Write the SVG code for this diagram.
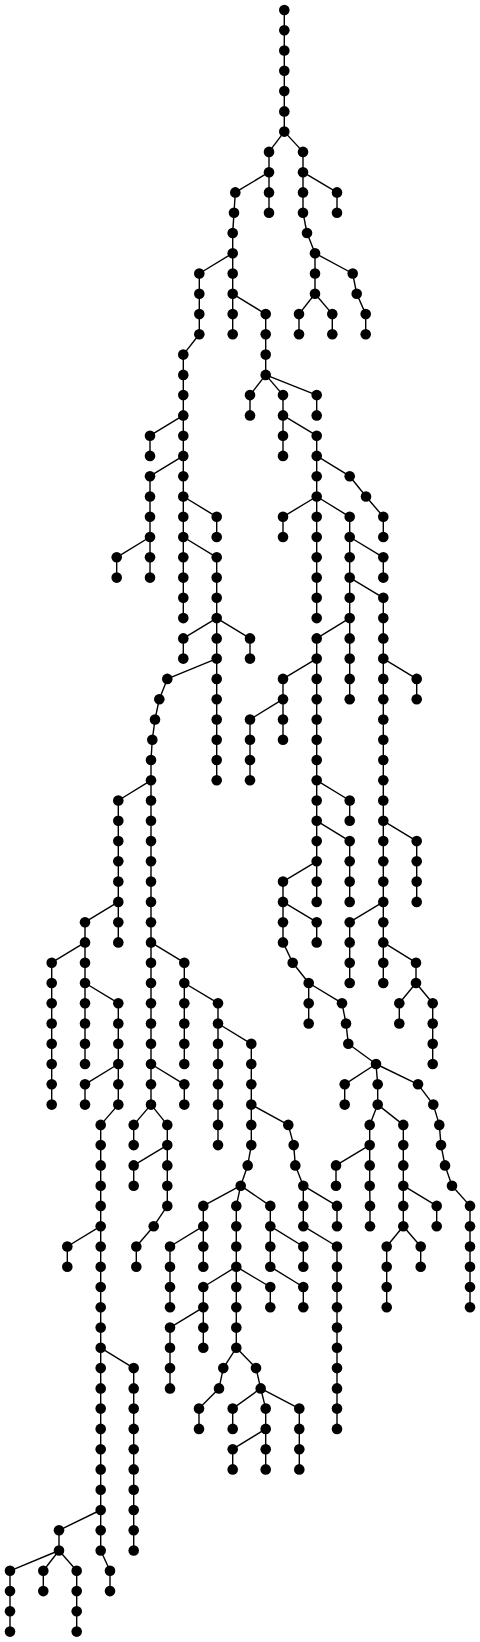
<svg xmlns="http://www.w3.org/2000/svg" width="480" height="1642" viewBox="0 0 480 1642">
<style>
line{stroke:#000;stroke-width:1.4}
circle{fill:#000}
</style>
<rect width="480" height="1642" fill="#fff"/>
<g id="edges">
<line x1="284.3" y1="10" x2="284.3" y2="30.3"/><line x1="284.3" y1="30.3" x2="284.3" y2="50.5"/><line x1="284.3" y1="50.5" x2="284.3" y2="70.8"/><line x1="284.3" y1="70.8" x2="284.3" y2="91.1"/><line x1="284.3" y1="91.1" x2="284.3" y2="111.4"/><line x1="284.3" y1="111.4" x2="284.3" y2="131.6"/>
<line x1="284.3" y1="131.6" x2="269" y2="151.9"/><line x1="284.3" y1="131.6" x2="303" y2="151.9"/>
<line x1="269" y1="151.9" x2="269" y2="172.2"/><line x1="303" y1="151.9" x2="303" y2="172.2"/>
<line x1="269" y1="172.2" x2="235.3" y2="192.4"/><line x1="269" y1="172.2" x2="269" y2="192.4"/><line x1="303" y1="172.2" x2="303" y2="192.4"/><line x1="303" y1="172.2" x2="337" y2="192.4"/>
<line x1="235.3" y1="192.4" x2="234" y2="212.7"/><line x1="269" y1="192.4" x2="269" y2="212.7"/><line x1="303" y1="192.4" x2="303" y2="212.7"/><line x1="337" y1="192.4" x2="337" y2="212.7"/>
<line x1="234" y1="212.7" x2="232.7" y2="233"/><line x1="303" y1="212.7" x2="307" y2="233"/>
<line x1="232.7" y1="233" x2="232.7" y2="253.2"/><line x1="307" y1="233" x2="315" y2="253.2"/>
<line x1="232.7" y1="253.2" x2="199.3" y2="273.5"/><line x1="232.7" y1="253.2" x2="232.7" y2="273.5"/><line x1="315" y1="253.2" x2="315" y2="273.5"/><line x1="315" y1="253.2" x2="352.7" y2="273.5"/>
<line x1="199.3" y1="273.5" x2="199.3" y2="293.8"/><line x1="232.7" y1="273.5" x2="232.7" y2="293.8"/><line x1="315" y1="273.5" x2="315" y2="293.8"/><line x1="352.7" y1="273.5" x2="356.7" y2="293.8"/>
<line x1="199.3" y1="293.8" x2="199.3" y2="314.1"/><line x1="232.7" y1="293.8" x2="232.7" y2="314.1"/><line x1="232.7" y1="293.8" x2="265.7" y2="314.1"/><line x1="315" y1="293.8" x2="299" y2="314.1"/><line x1="315" y1="293.8" x2="332.3" y2="314.1"/><line x1="356.7" y1="293.8" x2="365.7" y2="314.1"/>
<line x1="199.3" y1="314.1" x2="199.3" y2="334.3"/><line x1="232.7" y1="314.1" x2="232.7" y2="334.3"/><line x1="265.7" y1="314.1" x2="265.7" y2="334.3"/><line x1="299" y1="314.1" x2="299" y2="334.3"/><line x1="332.3" y1="314.1" x2="332.3" y2="334.3"/><line x1="365.7" y1="314.1" x2="365.7" y2="334.3"/>
<line x1="199.3" y1="334.3" x2="183.3" y2="354.6"/><line x1="265.7" y1="334.3" x2="265.7" y2="354.6"/>
<line x1="183.3" y1="354.6" x2="183.3" y2="374.9"/><line x1="265.7" y1="354.6" x2="265.7" y2="374.9"/>
<line x1="183.3" y1="374.9" x2="183.3" y2="395.1"/><line x1="265.7" y1="374.9" x2="250" y2="395.1"/><line x1="265.7" y1="374.9" x2="283" y2="395.1"/><line x1="265.7" y1="374.9" x2="316.7" y2="395.1"/>
<line x1="183.3" y1="395.1" x2="183.3" y2="415.4"/><line x1="250" y1="395.1" x2="250" y2="415.4"/><line x1="283" y1="395.1" x2="283" y2="415.4"/><line x1="316.7" y1="395.1" x2="316.7" y2="415.4"/>
<line x1="183.3" y1="415.4" x2="150" y2="435.7"/><line x1="183.3" y1="415.4" x2="183.3" y2="435.7"/><line x1="283" y1="415.4" x2="283" y2="435.7"/><line x1="283" y1="415.4" x2="316.7" y2="435.7"/>
<line x1="150" y1="435.7" x2="150" y2="455.9"/><line x1="183.3" y1="435.7" x2="183.3" y2="455.9"/><line x1="283" y1="435.7" x2="283" y2="455.9"/><line x1="316.7" y1="435.7" x2="316.7" y2="455.9"/>
<line x1="183.3" y1="455.9" x2="150" y2="476.2"/><line x1="183.3" y1="455.9" x2="183.3" y2="476.2"/><line x1="316.7" y1="455.9" x2="316.7" y2="476.2"/><line x1="316.7" y1="455.9" x2="349.7" y2="476.2"/>
<line x1="150" y1="476.2" x2="150" y2="496.5"/><line x1="183.3" y1="476.2" x2="183.3" y2="496.5"/><line x1="316.7" y1="476.2" x2="316.7" y2="496.5"/><line x1="349.7" y1="476.2" x2="366" y2="496.5"/>
<line x1="150" y1="496.5" x2="150" y2="516.8"/><line x1="183.3" y1="496.5" x2="183.3" y2="516.8"/><line x1="183.3" y1="496.5" x2="216.7" y2="516.8"/><line x1="316.7" y1="496.5" x2="283" y2="516.8"/><line x1="316.7" y1="496.5" x2="316.7" y2="516.8"/><line x1="316.7" y1="496.5" x2="349.7" y2="516.8"/><line x1="366" y1="496.5" x2="383.3" y2="516.8"/>
<line x1="150" y1="516.8" x2="150" y2="537"/><line x1="183.3" y1="516.8" x2="183.3" y2="537"/><line x1="216.7" y1="516.8" x2="216.7" y2="537"/><line x1="283" y1="516.8" x2="283" y2="537"/><line x1="316.7" y1="516.8" x2="316.7" y2="537"/><line x1="349.7" y1="516.8" x2="349.7" y2="537"/><line x1="383.3" y1="516.8" x2="383.3" y2="537"/>
<line x1="150" y1="537" x2="116.7" y2="557.3"/><line x1="150" y1="537" x2="150" y2="557.3"/><line x1="183.3" y1="537" x2="183.3" y2="557.3"/><line x1="183.3" y1="537" x2="216.7" y2="557.3"/><line x1="316.7" y1="537" x2="316.7" y2="557.3"/><line x1="349.7" y1="537" x2="349.7" y2="557.3"/><line x1="349.7" y1="537" x2="383.3" y2="557.3"/>
<line x1="116.7" y1="557.3" x2="116.7" y2="577.6"/><line x1="150" y1="557.3" x2="150" y2="577.6"/><line x1="183.3" y1="557.3" x2="183.3" y2="577.6"/><line x1="216.7" y1="557.3" x2="216.7" y2="577.6"/><line x1="316.7" y1="557.3" x2="316.7" y2="577.6"/><line x1="349.7" y1="557.3" x2="349.7" y2="577.6"/><line x1="383.3" y1="557.3" x2="383.3" y2="577.6"/>
<line x1="183.3" y1="577.6" x2="183.3" y2="597.8"/><line x1="216.7" y1="577.6" x2="216.7" y2="597.8"/><line x1="316.7" y1="577.6" x2="316.7" y2="597.8"/><line x1="349.7" y1="577.6" x2="349.7" y2="597.8"/><line x1="349.7" y1="577.6" x2="383.3" y2="597.8"/>
<line x1="183.3" y1="597.8" x2="183.3" y2="618.1"/><line x1="216.7" y1="597.8" x2="216.7" y2="618.1"/><line x1="316.7" y1="597.8" x2="316.7" y2="618.1"/><line x1="349.7" y1="597.8" x2="349.7" y2="618.1"/><line x1="383.3" y1="597.8" x2="383.3" y2="618.1"/>
<line x1="216.7" y1="618.1" x2="183.3" y2="638.4"/><line x1="216.7" y1="618.1" x2="216.7" y2="638.4"/><line x1="216.7" y1="618.1" x2="250" y2="638.4"/><line x1="349.7" y1="618.1" x2="316.7" y2="638.4"/><line x1="349.7" y1="618.1" x2="349.7" y2="638.4"/><line x1="383.3" y1="618.1" x2="383.3" y2="638.4"/>
<line x1="183.3" y1="638.4" x2="183.3" y2="658.6"/><line x1="216.7" y1="638.4" x2="216.7" y2="658.6"/><line x1="250" y1="638.4" x2="250" y2="658.6"/><line x1="316.7" y1="638.4" x2="316.7" y2="658.6"/><line x1="349.7" y1="638.4" x2="349.7" y2="658.6"/><line x1="383.3" y1="638.4" x2="383.3" y2="658.6"/>
<line x1="216.7" y1="658.6" x2="167.3" y2="678.9"/><line x1="216.7" y1="658.6" x2="216.7" y2="678.9"/><line x1="316.7" y1="658.6" x2="283" y2="678.9"/><line x1="316.7" y1="658.6" x2="316.7" y2="678.9"/><line x1="349.7" y1="658.6" x2="349.7" y2="678.9"/><line x1="383.3" y1="658.6" x2="383.3" y2="678.9"/><line x1="383.3" y1="658.6" x2="416.7" y2="678.9"/>
<line x1="167.3" y1="678.9" x2="159.3" y2="699.2"/><line x1="216.7" y1="678.9" x2="216.7" y2="699.2"/><line x1="283" y1="678.9" x2="283" y2="699.2"/><line x1="316.7" y1="678.9" x2="316.7" y2="699.2"/><line x1="349.7" y1="678.9" x2="349.7" y2="699.2"/><line x1="383.3" y1="678.9" x2="383.3" y2="699.2"/><line x1="416.7" y1="678.9" x2="416.7" y2="699.2"/>
<line x1="159.3" y1="699.2" x2="155" y2="719.5"/><line x1="216.7" y1="699.2" x2="216.7" y2="719.5"/><line x1="283" y1="699.2" x2="250" y2="719.5"/><line x1="283" y1="699.2" x2="283" y2="719.5"/><line x1="316.7" y1="699.2" x2="316.7" y2="719.5"/><line x1="383.3" y1="699.2" x2="383.3" y2="719.5"/>
<line x1="155" y1="719.5" x2="152.3" y2="739.7"/><line x1="216.7" y1="719.5" x2="216.7" y2="739.7"/><line x1="250" y1="719.5" x2="250" y2="739.7"/><line x1="283" y1="719.5" x2="283" y2="739.7"/><line x1="316.7" y1="719.5" x2="316.7" y2="739.7"/><line x1="383.3" y1="719.5" x2="383.3" y2="739.7"/>
<line x1="152.3" y1="739.7" x2="151" y2="760"/><line x1="216.7" y1="739.7" x2="216.7" y2="760"/><line x1="250" y1="739.7" x2="250" y2="760"/><line x1="316.7" y1="739.7" x2="316.7" y2="760"/><line x1="383.3" y1="739.7" x2="383.3" y2="760"/>
<line x1="151" y1="760" x2="151" y2="780.3"/><line x1="216.7" y1="760" x2="216.7" y2="780.3"/><line x1="250" y1="760" x2="250" y2="780.3"/><line x1="316.7" y1="760" x2="316.7" y2="780.3"/><line x1="383.3" y1="760" x2="383.3" y2="780.3"/>
<line x1="151" y1="780.3" x2="118.3" y2="800.5"/><line x1="151" y1="780.3" x2="151" y2="800.5"/><line x1="316.7" y1="780.3" x2="316.7" y2="800.5"/><line x1="316.7" y1="780.3" x2="349.7" y2="800.5"/><line x1="383.3" y1="780.3" x2="383.3" y2="800.5"/>
<line x1="118.3" y1="800.5" x2="118.3" y2="820.8"/><line x1="151" y1="800.5" x2="151" y2="820.8"/><line x1="316.7" y1="800.5" x2="316.7" y2="820.8"/><line x1="349.7" y1="800.5" x2="349.7" y2="820.8"/><line x1="383.3" y1="800.5" x2="383.3" y2="820.8"/>
<line x1="118.3" y1="820.8" x2="118.3" y2="841.1"/><line x1="151" y1="820.8" x2="151" y2="841.1"/><line x1="316.7" y1="820.8" x2="316.7" y2="841.1"/><line x1="316.7" y1="820.8" x2="349.7" y2="841.1"/><line x1="383.3" y1="820.8" x2="383.3" y2="841.1"/><line x1="383.3" y1="820.8" x2="416.7" y2="841.1"/>
<line x1="118.3" y1="841.1" x2="118.3" y2="861.3"/><line x1="151" y1="841.1" x2="151" y2="861.3"/><line x1="316.7" y1="841.1" x2="316.7" y2="861.3"/><line x1="349.7" y1="841.1" x2="349.7" y2="861.3"/><line x1="383.3" y1="841.1" x2="383.3" y2="861.3"/><line x1="416.7" y1="841.1" x2="416.7" y2="861.3"/>
<line x1="118.3" y1="861.3" x2="118.3" y2="881.6"/><line x1="151" y1="861.3" x2="151" y2="881.6"/><line x1="316.7" y1="861.3" x2="283" y2="881.6"/><line x1="316.7" y1="861.3" x2="316.7" y2="881.6"/><line x1="349.7" y1="861.3" x2="349.7" y2="881.6"/><line x1="383.3" y1="861.3" x2="383.3" y2="881.6"/><line x1="416.7" y1="861.3" x2="416.7" y2="881.6"/>
<line x1="118.3" y1="881.6" x2="118.3" y2="901.9"/><line x1="151" y1="881.6" x2="151" y2="901.9"/><line x1="283" y1="881.6" x2="283" y2="901.9"/><line x1="316.7" y1="881.6" x2="316.7" y2="901.9"/><line x1="349.7" y1="881.6" x2="349.7" y2="901.9"/><line x1="383.3" y1="881.6" x2="383.3" y2="901.9"/><line x1="416.7" y1="881.6" x2="416.7" y2="901.9"/>
<line x1="118.3" y1="901.9" x2="85" y2="922.2"/><line x1="118.3" y1="901.9" x2="118.3" y2="922.2"/><line x1="151" y1="901.9" x2="151" y2="922.2"/><line x1="283" y1="901.9" x2="283" y2="922.2"/><line x1="283" y1="901.9" x2="316.7" y2="922.2"/><line x1="383.3" y1="901.9" x2="349.7" y2="922.2"/><line x1="383.3" y1="901.9" x2="383.3" y2="922.2"/>
<line x1="85" y1="922.2" x2="85" y2="942.4"/><line x1="118.3" y1="922.2" x2="118.3" y2="942.4"/><line x1="151" y1="922.2" x2="151" y2="942.4"/><line x1="283" y1="922.2" x2="283" y2="942.4"/><line x1="316.7" y1="922.2" x2="316.7" y2="942.4"/><line x1="349.7" y1="922.2" x2="349.7" y2="942.4"/><line x1="383.3" y1="922.2" x2="383.3" y2="942.4"/>
<line x1="85" y1="942.4" x2="51.7" y2="962.7"/><line x1="85" y1="942.4" x2="85" y2="962.7"/><line x1="151" y1="942.4" x2="151" y2="962.7"/><line x1="151" y1="942.4" x2="184.3" y2="962.7"/><line x1="283" y1="942.4" x2="292.7" y2="962.7"/><line x1="349.7" y1="942.4" x2="349.7" y2="962.7"/><line x1="383.3" y1="942.4" x2="383.3" y2="962.7"/><line x1="383.3" y1="942.4" x2="416" y2="962.7"/>
<line x1="51.7" y1="962.7" x2="51.7" y2="983"/><line x1="85" y1="962.7" x2="85" y2="983"/><line x1="151" y1="962.7" x2="151" y2="983"/><line x1="184.3" y1="962.7" x2="184.3" y2="983"/><line x1="292.7" y1="962.7" x2="308.7" y2="983"/><line x1="349.7" y1="962.7" x2="349.7" y2="983"/><line x1="383.3" y1="962.7" x2="383.3" y2="983"/><line x1="416" y1="962.7" x2="416" y2="983"/>
<line x1="51.7" y1="983" x2="51.7" y2="1003.2"/><line x1="85" y1="983" x2="85" y2="1003.2"/><line x1="85" y1="983" x2="118.3" y2="1003.2"/><line x1="151" y1="983" x2="151" y2="1003.2"/><line x1="184.3" y1="983" x2="184.3" y2="1003.2"/><line x1="184.3" y1="983" x2="218" y2="1003.2"/><line x1="308.7" y1="983" x2="308.7" y2="1003.2"/><line x1="308.7" y1="983" x2="342" y2="1003.2"/><line x1="416" y1="983" x2="399.3" y2="1003.2"/><line x1="416" y1="983" x2="432.7" y2="1003.2"/>
<line x1="51.7" y1="1003.2" x2="51.7" y2="1023.5"/><line x1="85" y1="1003.2" x2="85" y2="1023.5"/><line x1="118.3" y1="1003.2" x2="118.3" y2="1023.5"/><line x1="151" y1="1003.2" x2="151" y2="1023.5"/><line x1="184.3" y1="1003.2" x2="184.3" y2="1023.5"/><line x1="218" y1="1003.2" x2="218" y2="1023.5"/><line x1="308.7" y1="1003.2" x2="308.7" y2="1023.5"/><line x1="342" y1="1003.2" x2="346" y2="1023.5"/><line x1="399.3" y1="1003.2" x2="399.3" y2="1023.5"/><line x1="432.7" y1="1003.2" x2="432.7" y2="1023.5"/>
<line x1="51.7" y1="1023.5" x2="51.7" y2="1043.8"/><line x1="85" y1="1023.5" x2="85" y2="1043.8"/><line x1="118.3" y1="1023.5" x2="118.3" y2="1043.8"/><line x1="151" y1="1023.5" x2="151" y2="1043.8"/><line x1="184.3" y1="1023.5" x2="184.3" y2="1043.8"/><line x1="218" y1="1023.5" x2="218" y2="1043.8"/><line x1="218" y1="1023.5" x2="251.3" y2="1043.8"/><line x1="346" y1="1023.5" x2="348.3" y2="1043.8"/><line x1="432.7" y1="1023.5" x2="432.7" y2="1043.8"/>
<line x1="51.7" y1="1043.8" x2="51.7" y2="1064"/><line x1="85" y1="1043.8" x2="85" y2="1064"/><line x1="118.3" y1="1043.8" x2="118.3" y2="1064"/><line x1="151" y1="1043.8" x2="151" y2="1064"/><line x1="184.3" y1="1043.8" x2="184.3" y2="1064"/><line x1="218" y1="1043.8" x2="218" y2="1064"/><line x1="251.3" y1="1043.8" x2="251.3" y2="1064"/><line x1="348.3" y1="1043.8" x2="376" y2="1064"/><line x1="432.7" y1="1043.8" x2="432.7" y2="1064"/>
<line x1="51.7" y1="1064" x2="51.7" y2="1084.3"/><line x1="118.3" y1="1064" x2="85" y2="1084.3"/><line x1="118.3" y1="1064" x2="118.3" y2="1084.3"/><line x1="151" y1="1064" x2="151" y2="1084.3"/><line x1="151" y1="1064" x2="184.3" y2="1084.3"/><line x1="218" y1="1064" x2="218" y2="1084.3"/><line x1="251.3" y1="1064" x2="251.3" y2="1084.3"/><line x1="376" y1="1064" x2="344.7" y2="1084.3"/><line x1="376" y1="1064" x2="377.7" y2="1084.3"/><line x1="376" y1="1064" x2="418" y2="1084.3"/>
<line x1="51.7" y1="1084.3" x2="51.7" y2="1104.6"/><line x1="85" y1="1084.3" x2="85" y2="1104.6"/><line x1="118.3" y1="1084.3" x2="118.3" y2="1104.6"/><line x1="151" y1="1084.3" x2="151" y2="1104.6"/><line x1="184.3" y1="1084.3" x2="184.3" y2="1104.6"/><line x1="218" y1="1084.3" x2="218" y2="1104.6"/><line x1="251.3" y1="1084.3" x2="251.3" y2="1104.6"/><line x1="344.7" y1="1084.3" x2="344.7" y2="1104.6"/><line x1="377.7" y1="1084.3" x2="377.7" y2="1104.6"/><line x1="418" y1="1084.3" x2="433.3" y2="1104.6"/>
<line x1="118.3" y1="1104.6" x2="100.7" y2="1124.9"/><line x1="151" y1="1104.6" x2="133.7" y2="1124.9"/><line x1="151" y1="1104.6" x2="167.3" y2="1124.9"/><line x1="218" y1="1104.6" x2="218" y2="1124.9"/><line x1="251.3" y1="1104.6" x2="251.3" y2="1124.9"/><line x1="251.3" y1="1104.6" x2="288.3" y2="1124.9"/><line x1="377.7" y1="1104.6" x2="369.7" y2="1124.9"/><line x1="377.7" y1="1104.6" x2="403.3" y2="1124.9"/><line x1="433.3" y1="1104.6" x2="439.3" y2="1124.9"/>
<line x1="100.7" y1="1124.9" x2="100.7" y2="1145.1"/><line x1="133.7" y1="1124.9" x2="133.7" y2="1145.1"/><line x1="167.3" y1="1124.9" x2="167.3" y2="1145.1"/><line x1="218" y1="1124.9" x2="218" y2="1145.1"/><line x1="251.3" y1="1124.9" x2="251.3" y2="1145.1"/><line x1="288.3" y1="1124.9" x2="293.7" y2="1145.1"/><line x1="369.7" y1="1124.9" x2="369.7" y2="1145.1"/><line x1="403.3" y1="1124.9" x2="403.3" y2="1145.1"/><line x1="439.3" y1="1124.9" x2="441" y2="1145.1"/>
<line x1="100.7" y1="1145.1" x2="100.7" y2="1165.4"/><line x1="167.3" y1="1145.1" x2="133.7" y2="1165.4"/><line x1="167.3" y1="1145.1" x2="167.3" y2="1165.4"/><line x1="251.3" y1="1145.1" x2="247.7" y2="1165.4"/><line x1="293.7" y1="1145.1" x2="295.3" y2="1165.4"/><line x1="369.7" y1="1145.1" x2="336" y2="1165.4"/><line x1="369.7" y1="1145.1" x2="369.7" y2="1165.4"/><line x1="403.3" y1="1145.1" x2="403.3" y2="1165.4"/><line x1="441" y1="1145.1" x2="445" y2="1165.4"/>
<line x1="100.7" y1="1165.4" x2="100.7" y2="1185.7"/><line x1="133.7" y1="1165.4" x2="133.7" y2="1185.7"/><line x1="167.3" y1="1165.4" x2="167.3" y2="1185.7"/><line x1="247.7" y1="1165.4" x2="240.7" y2="1185.7"/><line x1="295.3" y1="1165.4" x2="303.3" y2="1185.7"/><line x1="336" y1="1165.4" x2="336" y2="1185.7"/><line x1="369.7" y1="1165.4" x2="369.7" y2="1185.7"/><line x1="403.3" y1="1165.4" x2="403.3" y2="1185.7"/><line x1="445" y1="1165.4" x2="452" y2="1185.7"/>
<line x1="100.7" y1="1185.7" x2="100.7" y2="1205.9"/><line x1="167.3" y1="1185.7" x2="167.3" y2="1205.9"/><line x1="240.7" y1="1185.7" x2="203.3" y2="1205.9"/><line x1="240.7" y1="1185.7" x2="236.3" y2="1205.9"/><line x1="240.7" y1="1185.7" x2="270.3" y2="1205.9"/><line x1="303.3" y1="1185.7" x2="303.3" y2="1205.9"/><line x1="303.3" y1="1185.7" x2="337" y2="1205.9"/><line x1="369.7" y1="1185.7" x2="370" y2="1205.9"/><line x1="403.3" y1="1185.7" x2="403.3" y2="1205.9"/><line x1="403.3" y1="1185.7" x2="436.7" y2="1205.9"/><line x1="452" y1="1185.7" x2="470" y2="1205.9"/>
<line x1="100.7" y1="1205.9" x2="100.7" y2="1226.2"/><line x1="167.3" y1="1205.9" x2="153.7" y2="1226.2"/><line x1="203.3" y1="1205.9" x2="203.3" y2="1226.2"/><line x1="236.3" y1="1205.9" x2="236.3" y2="1226.2"/><line x1="270.3" y1="1205.9" x2="270.3" y2="1226.2"/><line x1="303.3" y1="1205.9" x2="303.3" y2="1226.2"/><line x1="337" y1="1205.9" x2="337" y2="1226.2"/><line x1="370" y1="1205.9" x2="370" y2="1226.2"/><line x1="403.3" y1="1205.9" x2="403.3" y2="1226.2"/><line x1="436.7" y1="1205.9" x2="436.7" y2="1226.2"/><line x1="470" y1="1205.9" x2="470" y2="1226.2"/>
<line x1="100.7" y1="1226.2" x2="67.3" y2="1246.5"/><line x1="100.7" y1="1226.2" x2="100.7" y2="1246.5"/><line x1="153.7" y1="1226.2" x2="136.3" y2="1246.5"/><line x1="203.3" y1="1226.2" x2="170" y2="1246.5"/><line x1="203.3" y1="1226.2" x2="203.3" y2="1246.5"/><line x1="236.3" y1="1226.2" x2="236.3" y2="1246.5"/><line x1="270.3" y1="1226.2" x2="270.3" y2="1246.5"/><line x1="270.3" y1="1226.2" x2="303.3" y2="1246.5"/><line x1="303.3" y1="1226.2" x2="337" y2="1246.5"/><line x1="403.3" y1="1226.2" x2="386.7" y2="1246.5"/><line x1="403.3" y1="1226.2" x2="420.7" y2="1246.5"/><line x1="470" y1="1226.2" x2="470" y2="1246.5"/>
<line x1="67.3" y1="1246.5" x2="67.3" y2="1266.7"/><line x1="100.7" y1="1246.5" x2="100.7" y2="1266.7"/><line x1="136.3" y1="1246.5" x2="136.3" y2="1266.7"/><line x1="170" y1="1246.5" x2="170" y2="1266.7"/><line x1="203.3" y1="1246.5" x2="203.3" y2="1266.7"/><line x1="236.3" y1="1246.5" x2="236.3" y2="1266.7"/><line x1="270.3" y1="1246.5" x2="270.3" y2="1266.7"/><line x1="303.3" y1="1246.5" x2="303.3" y2="1266.7"/><line x1="337" y1="1246.5" x2="337" y2="1266.7"/><line x1="386.7" y1="1246.5" x2="386.7" y2="1266.7"/><line x1="420.7" y1="1246.5" x2="420.7" y2="1266.7"/><line x1="470" y1="1246.5" x2="470" y2="1266.7"/>
<line x1="100.7" y1="1266.7" x2="100.7" y2="1287"/><line x1="170" y1="1266.7" x2="170" y2="1287"/><line x1="236.3" y1="1266.7" x2="203.3" y2="1287"/><line x1="236.3" y1="1266.7" x2="236.3" y2="1287"/><line x1="236.3" y1="1266.7" x2="270.3" y2="1287"/><line x1="270.3" y1="1266.7" x2="303.3" y2="1287"/><line x1="337" y1="1266.7" x2="337" y2="1287"/><line x1="386.7" y1="1266.7" x2="386.7" y2="1287"/><line x1="470" y1="1266.7" x2="470" y2="1287"/>
<line x1="100.7" y1="1287" x2="100.7" y2="1307.3"/><line x1="170" y1="1287" x2="170" y2="1307.3"/><line x1="203.3" y1="1287" x2="203.3" y2="1307.3"/><line x1="236.3" y1="1287" x2="236.3" y2="1307.3"/><line x1="270.3" y1="1287" x2="270.3" y2="1307.3"/><line x1="303.3" y1="1287" x2="303.3" y2="1307.3"/><line x1="337" y1="1287" x2="337" y2="1307.3"/><line x1="386.7" y1="1287" x2="386.7" y2="1307.3"/><line x1="470" y1="1287" x2="470" y2="1307.3"/>
<line x1="100.7" y1="1307.3" x2="100.7" y2="1327.6"/><line x1="203.3" y1="1307.3" x2="170" y2="1327.6"/><line x1="203.3" y1="1307.3" x2="203.3" y2="1327.6"/><line x1="236.3" y1="1307.3" x2="236.3" y2="1327.6"/><line x1="337" y1="1307.3" x2="337" y2="1327.6"/>
<line x1="100.7" y1="1327.6" x2="100.7" y2="1347.8"/><line x1="170" y1="1327.6" x2="170" y2="1347.8"/><line x1="203.3" y1="1327.6" x2="203.3" y2="1347.8"/><line x1="236.3" y1="1327.6" x2="236.3" y2="1347.8"/><line x1="337" y1="1327.6" x2="337" y2="1347.8"/>
<line x1="100.7" y1="1347.8" x2="100.7" y2="1368.1"/><line x1="100.7" y1="1347.8" x2="133.7" y2="1368.1"/><line x1="170" y1="1347.8" x2="170" y2="1368.1"/><line x1="236.3" y1="1347.8" x2="223.3" y2="1368.1"/><line x1="236.3" y1="1347.8" x2="256" y2="1368.1"/><line x1="337" y1="1347.8" x2="337" y2="1368.1"/>
<line x1="100.7" y1="1368.1" x2="100.7" y2="1388.4"/><line x1="133.7" y1="1368.1" x2="133.7" y2="1388.4"/><line x1="170" y1="1368.1" x2="170" y2="1388.4"/><line x1="223.3" y1="1368.1" x2="219" y2="1388.4"/><line x1="256" y1="1368.1" x2="260.7" y2="1388.4"/><line x1="337" y1="1368.1" x2="337" y2="1388.4"/>
<line x1="100.7" y1="1388.4" x2="100.7" y2="1408.6"/><line x1="133.7" y1="1388.4" x2="133.7" y2="1408.6"/><line x1="219" y1="1388.4" x2="199" y2="1408.6"/><line x1="260.7" y1="1388.4" x2="232.7" y2="1408.6"/><line x1="260.7" y1="1388.4" x2="265.7" y2="1408.6"/><line x1="260.7" y1="1388.4" x2="299.3" y2="1408.6"/><line x1="337" y1="1388.4" x2="337" y2="1408.6"/>
<line x1="100.7" y1="1408.6" x2="100.7" y2="1428.9"/><line x1="133.7" y1="1408.6" x2="133.7" y2="1428.9"/><line x1="199" y1="1408.6" x2="199" y2="1428.9"/><line x1="232.7" y1="1408.6" x2="232.7" y2="1428.9"/><line x1="265.7" y1="1408.6" x2="265.7" y2="1428.9"/><line x1="299.3" y1="1408.6" x2="299.3" y2="1428.9"/><line x1="337" y1="1408.6" x2="337" y2="1428.9"/>
<line x1="100.7" y1="1428.9" x2="100.7" y2="1449.2"/><line x1="133.7" y1="1428.9" x2="133.7" y2="1449.2"/><line x1="265.7" y1="1428.9" x2="232.7" y2="1449.2"/><line x1="265.7" y1="1428.9" x2="265.7" y2="1449.2"/><line x1="299.3" y1="1428.9" x2="299.3" y2="1449.2"/>
<line x1="100.7" y1="1449.2" x2="100.7" y2="1469.4"/><line x1="133.7" y1="1449.2" x2="133.7" y2="1469.4"/><line x1="232.7" y1="1449.2" x2="232.7" y2="1469.4"/><line x1="265.7" y1="1449.2" x2="265.7" y2="1469.4"/><line x1="299.3" y1="1449.2" x2="299.3" y2="1469.4"/>
<line x1="100.7" y1="1469.4" x2="100.7" y2="1489.7"/><line x1="133.7" y1="1469.4" x2="133.7" y2="1489.7"/>
<line x1="100.7" y1="1489.7" x2="100.7" y2="1510"/><line x1="133.7" y1="1489.7" x2="133.7" y2="1510"/>
<line x1="100.7" y1="1510" x2="59" y2="1530.3"/><line x1="100.7" y1="1510" x2="100.7" y2="1530.3"/><line x1="133.7" y1="1510" x2="133.7" y2="1530.3"/>
<line x1="59" y1="1530.3" x2="59" y2="1550.5"/><line x1="100.7" y1="1530.3" x2="100.7" y2="1550.5"/><line x1="133.7" y1="1530.3" x2="133.7" y2="1550.5"/>
<line x1="59" y1="1550.5" x2="10" y2="1570.8"/><line x1="59" y1="1550.5" x2="43.3" y2="1570.8"/><line x1="59" y1="1550.5" x2="76.7" y2="1570.8"/><line x1="100.7" y1="1550.5" x2="110" y2="1570.8"/>
<line x1="10" y1="1570.8" x2="10" y2="1591.1"/><line x1="43.3" y1="1570.8" x2="43.3" y2="1591.1"/><line x1="76.7" y1="1570.8" x2="76.7" y2="1591.1"/><line x1="110" y1="1570.8" x2="110" y2="1591.1"/>
<line x1="10" y1="1591.1" x2="10" y2="1611.3"/><line x1="76.7" y1="1591.1" x2="76.7" y2="1611.3"/>
<line x1="10" y1="1611.3" x2="10" y2="1631.6"/><line x1="76.7" y1="1611.3" x2="76.7" y2="1631.6"/>
</g>
<g id="nodes">
<g id="n0_284"><circle cx="284.3" cy="10" r="5.3"/></g>
<g id="n1_284"><circle cx="284.3" cy="30.3" r="5.3"/></g>
<g id="n2_284"><circle cx="284.3" cy="50.5" r="5.3"/></g>
<g id="n3_284"><circle cx="284.3" cy="70.8" r="5.3"/></g>
<g id="n4_284"><circle cx="284.3" cy="91.1" r="5.3"/></g>
<g id="n5_284"><circle cx="284.3" cy="111.4" r="5.3"/></g>
<g id="n6_284"><circle cx="284.3" cy="131.6" r="5.3"/></g>
<g id="n7_269"><circle cx="269" cy="151.9" r="5.3"/></g><g id="n7_303"><circle cx="303" cy="151.9" r="5.3"/></g>
<g id="n8_269"><circle cx="269" cy="172.2" r="5.3"/></g><g id="n8_303"><circle cx="303" cy="172.2" r="5.3"/></g>
<g id="n9_235"><circle cx="235.3" cy="192.4" r="5.3"/></g><g id="n9_269"><circle cx="269" cy="192.4" r="5.3"/></g><g id="n9_303"><circle cx="303" cy="192.4" r="5.3"/></g><g id="n9_337"><circle cx="337" cy="192.4" r="5.3"/></g>
<g id="n10_234"><circle cx="234" cy="212.7" r="5.3"/></g><g id="n10_269"><circle cx="269" cy="212.7" r="5.3"/></g><g id="n10_303"><circle cx="303" cy="212.7" r="5.3"/></g><g id="n10_337"><circle cx="337" cy="212.7" r="5.3"/></g>
<g id="n11_232"><circle cx="232.7" cy="233" r="5.3"/></g><g id="n11_307"><circle cx="307" cy="233" r="5.3"/></g>
<g id="n12_232"><circle cx="232.7" cy="253.2" r="5.3"/></g><g id="n12_315"><circle cx="315" cy="253.2" r="5.3"/></g>
<g id="n13_199"><circle cx="199.3" cy="273.5" r="5.3"/></g><g id="n13_232"><circle cx="232.7" cy="273.5" r="5.3"/></g><g id="n13_315"><circle cx="315" cy="273.5" r="5.3"/></g><g id="n13_352"><circle cx="352.7" cy="273.5" r="5.3"/></g>
<g id="n14_199"><circle cx="199.3" cy="293.8" r="5.3"/></g><g id="n14_232"><circle cx="232.7" cy="293.8" r="5.3"/></g><g id="n14_315"><circle cx="315" cy="293.8" r="5.3"/></g><g id="n14_356"><circle cx="356.7" cy="293.8" r="5.3"/></g>
<g id="n15_199"><circle cx="199.3" cy="314.1" r="5.3"/></g><g id="n15_232"><circle cx="232.7" cy="314.1" r="5.3"/></g><g id="n15_265"><circle cx="265.7" cy="314.1" r="5.3"/></g><g id="n15_299"><circle cx="299" cy="314.1" r="5.3"/></g><g id="n15_332"><circle cx="332.3" cy="314.1" r="5.3"/></g><g id="n15_365"><circle cx="365.7" cy="314.1" r="5.3"/></g>
<g id="n16_199"><circle cx="199.3" cy="334.3" r="5.3"/></g><g id="n16_232"><circle cx="232.7" cy="334.3" r="5.3"/></g><g id="n16_265"><circle cx="265.7" cy="334.3" r="5.3"/></g><g id="n16_299"><circle cx="299" cy="334.3" r="5.3"/></g><g id="n16_332"><circle cx="332.3" cy="334.3" r="5.3"/></g><g id="n16_365"><circle cx="365.7" cy="334.3" r="5.3"/></g>
<g id="n17_183"><circle cx="183.3" cy="354.6" r="5.3"/></g><g id="n17_265"><circle cx="265.7" cy="354.6" r="5.3"/></g>
<g id="n18_183"><circle cx="183.3" cy="374.9" r="5.3"/></g><g id="n18_265"><circle cx="265.7" cy="374.9" r="5.3"/></g>
<g id="n19_183"><circle cx="183.3" cy="395.1" r="5.3"/></g><g id="n19_250"><circle cx="250" cy="395.1" r="5.3"/></g><g id="n19_283"><circle cx="283" cy="395.1" r="5.3"/></g><g id="n19_316"><circle cx="316.7" cy="395.1" r="5.3"/></g>
<g id="n20_183"><circle cx="183.3" cy="415.4" r="5.3"/></g><g id="n20_250"><circle cx="250" cy="415.4" r="5.3"/></g><g id="n20_283"><circle cx="283" cy="415.4" r="5.3"/></g><g id="n20_316"><circle cx="316.7" cy="415.4" r="5.3"/></g>
<g id="n21_150"><circle cx="150" cy="435.7" r="5.3"/></g><g id="n21_183"><circle cx="183.3" cy="435.7" r="5.3"/></g><g id="n21_283"><circle cx="283" cy="435.7" r="5.3"/></g><g id="n21_316"><circle cx="316.7" cy="435.7" r="5.3"/></g>
<g id="n22_150"><circle cx="150" cy="455.9" r="5.3"/></g><g id="n22_183"><circle cx="183.3" cy="455.9" r="5.3"/></g><g id="n22_283"><circle cx="283" cy="455.9" r="5.3"/></g><g id="n22_316"><circle cx="316.7" cy="455.9" r="5.3"/></g>
<g id="n23_150"><circle cx="150" cy="476.2" r="5.3"/></g><g id="n23_183"><circle cx="183.3" cy="476.2" r="5.3"/></g><g id="n23_316"><circle cx="316.7" cy="476.2" r="5.3"/></g><g id="n23_349"><circle cx="349.7" cy="476.2" r="5.3"/></g>
<g id="n24_150"><circle cx="150" cy="496.5" r="5.3"/></g><g id="n24_183"><circle cx="183.3" cy="496.5" r="5.3"/></g><g id="n24_316"><circle cx="316.7" cy="496.5" r="5.3"/></g><g id="n24_366"><circle cx="366" cy="496.5" r="5.3"/></g>
<g id="n25_150"><circle cx="150" cy="516.8" r="5.3"/></g><g id="n25_183"><circle cx="183.3" cy="516.8" r="5.3"/></g><g id="n25_216"><circle cx="216.7" cy="516.8" r="5.3"/></g><g id="n25_283"><circle cx="283" cy="516.8" r="5.3"/></g><g id="n25_316"><circle cx="316.7" cy="516.8" r="5.3"/></g><g id="n25_349"><circle cx="349.7" cy="516.8" r="5.3"/></g><g id="n25_383"><circle cx="383.3" cy="516.8" r="5.3"/></g>
<g id="n26_150"><circle cx="150" cy="537" r="5.3"/></g><g id="n26_183"><circle cx="183.3" cy="537" r="5.3"/></g><g id="n26_216"><circle cx="216.7" cy="537" r="5.3"/></g><g id="n26_283"><circle cx="283" cy="537" r="5.3"/></g><g id="n26_316"><circle cx="316.7" cy="537" r="5.3"/></g><g id="n26_349"><circle cx="349.7" cy="537" r="5.3"/></g><g id="n26_383"><circle cx="383.3" cy="537" r="5.3"/></g>
<g id="n27_116"><circle cx="116.7" cy="557.3" r="5.3"/></g><g id="n27_150"><circle cx="150" cy="557.3" r="5.3"/></g><g id="n27_183"><circle cx="183.3" cy="557.3" r="5.3"/></g><g id="n27_216"><circle cx="216.7" cy="557.3" r="5.3"/></g><g id="n27_316"><circle cx="316.7" cy="557.3" r="5.3"/></g><g id="n27_349"><circle cx="349.7" cy="557.3" r="5.3"/></g><g id="n27_383"><circle cx="383.3" cy="557.3" r="5.3"/></g>
<g id="n28_116"><circle cx="116.7" cy="577.6" r="5.3"/></g><g id="n28_150"><circle cx="150" cy="577.6" r="5.3"/></g><g id="n28_183"><circle cx="183.3" cy="577.6" r="5.3"/></g><g id="n28_216"><circle cx="216.7" cy="577.6" r="5.3"/></g><g id="n28_316"><circle cx="316.7" cy="577.6" r="5.3"/></g><g id="n28_349"><circle cx="349.7" cy="577.6" r="5.3"/></g><g id="n28_383"><circle cx="383.3" cy="577.6" r="5.3"/></g>
<g id="n29_183"><circle cx="183.3" cy="597.8" r="5.3"/></g><g id="n29_216"><circle cx="216.7" cy="597.8" r="5.3"/></g><g id="n29_316"><circle cx="316.7" cy="597.8" r="5.3"/></g><g id="n29_349"><circle cx="349.7" cy="597.8" r="5.3"/></g><g id="n29_383"><circle cx="383.3" cy="597.8" r="5.3"/></g>
<g id="n30_183"><circle cx="183.3" cy="618.1" r="5.3"/></g><g id="n30_216"><circle cx="216.7" cy="618.1" r="5.3"/></g><g id="n30_316"><circle cx="316.7" cy="618.1" r="5.3"/></g><g id="n30_349"><circle cx="349.7" cy="618.1" r="5.3"/></g><g id="n30_383"><circle cx="383.3" cy="618.1" r="5.3"/></g>
<g id="n31_183"><circle cx="183.3" cy="638.4" r="5.3"/></g><g id="n31_216"><circle cx="216.7" cy="638.4" r="5.3"/></g><g id="n31_250"><circle cx="250" cy="638.4" r="5.3"/></g><g id="n31_316"><circle cx="316.7" cy="638.4" r="5.3"/></g><g id="n31_349"><circle cx="349.7" cy="638.4" r="5.3"/></g><g id="n31_383"><circle cx="383.3" cy="638.4" r="5.3"/></g>
<g id="n32_183"><circle cx="183.3" cy="658.6" r="5.3"/></g><g id="n32_216"><circle cx="216.7" cy="658.6" r="5.3"/></g><g id="n32_250"><circle cx="250" cy="658.6" r="5.3"/></g><g id="n32_316"><circle cx="316.7" cy="658.6" r="5.3"/></g><g id="n32_349"><circle cx="349.7" cy="658.6" r="5.3"/></g><g id="n32_383"><circle cx="383.3" cy="658.6" r="5.3"/></g>
<g id="n33_167"><circle cx="167.3" cy="678.9" r="5.3"/></g><g id="n33_216"><circle cx="216.7" cy="678.9" r="5.3"/></g><g id="n33_283"><circle cx="283" cy="678.9" r="5.3"/></g><g id="n33_316"><circle cx="316.7" cy="678.9" r="5.3"/></g><g id="n33_349"><circle cx="349.7" cy="678.9" r="5.3"/></g><g id="n33_383"><circle cx="383.3" cy="678.9" r="5.3"/></g><g id="n33_416"><circle cx="416.7" cy="678.9" r="5.3"/></g>
<g id="n34_159"><circle cx="159.3" cy="699.2" r="5.3"/></g><g id="n34_216"><circle cx="216.7" cy="699.2" r="5.3"/></g><g id="n34_283"><circle cx="283" cy="699.2" r="5.3"/></g><g id="n34_316"><circle cx="316.7" cy="699.2" r="5.3"/></g><g id="n34_349"><circle cx="349.7" cy="699.2" r="5.3"/></g><g id="n34_383"><circle cx="383.3" cy="699.2" r="5.3"/></g><g id="n34_416"><circle cx="416.7" cy="699.2" r="5.3"/></g>
<g id="n35_155"><circle cx="155" cy="719.5" r="5.3"/></g><g id="n35_216"><circle cx="216.7" cy="719.5" r="5.3"/></g><g id="n35_250"><circle cx="250" cy="719.5" r="5.3"/></g><g id="n35_283"><circle cx="283" cy="719.5" r="5.3"/></g><g id="n35_316"><circle cx="316.7" cy="719.5" r="5.3"/></g><g id="n35_383"><circle cx="383.3" cy="719.5" r="5.3"/></g>
<g id="n36_152"><circle cx="152.3" cy="739.7" r="5.3"/></g><g id="n36_216"><circle cx="216.7" cy="739.7" r="5.3"/></g><g id="n36_250"><circle cx="250" cy="739.7" r="5.3"/></g><g id="n36_283"><circle cx="283" cy="739.7" r="5.3"/></g><g id="n36_316"><circle cx="316.7" cy="739.7" r="5.3"/></g><g id="n36_383"><circle cx="383.3" cy="739.7" r="5.3"/></g>
<g id="n37_151"><circle cx="151" cy="760" r="5.3"/></g><g id="n37_216"><circle cx="216.7" cy="760" r="5.3"/></g><g id="n37_250"><circle cx="250" cy="760" r="5.3"/></g><g id="n37_316"><circle cx="316.7" cy="760" r="5.3"/></g><g id="n37_383"><circle cx="383.3" cy="760" r="5.3"/></g>
<g id="n38_151"><circle cx="151" cy="780.3" r="5.3"/></g><g id="n38_216"><circle cx="216.7" cy="780.3" r="5.3"/></g><g id="n38_250"><circle cx="250" cy="780.3" r="5.3"/></g><g id="n38_316"><circle cx="316.7" cy="780.3" r="5.3"/></g><g id="n38_383"><circle cx="383.3" cy="780.3" r="5.3"/></g>
<g id="n39_118"><circle cx="118.3" cy="800.5" r="5.3"/></g><g id="n39_151"><circle cx="151" cy="800.5" r="5.3"/></g><g id="n39_316"><circle cx="316.7" cy="800.5" r="5.3"/></g><g id="n39_349"><circle cx="349.7" cy="800.5" r="5.3"/></g><g id="n39_383"><circle cx="383.3" cy="800.5" r="5.3"/></g>
<g id="n40_118"><circle cx="118.3" cy="820.8" r="5.3"/></g><g id="n40_151"><circle cx="151" cy="820.8" r="5.3"/></g><g id="n40_316"><circle cx="316.7" cy="820.8" r="5.3"/></g><g id="n40_349"><circle cx="349.7" cy="820.8" r="5.3"/></g><g id="n40_383"><circle cx="383.3" cy="820.8" r="5.3"/></g>
<g id="n41_118"><circle cx="118.3" cy="841.1" r="5.3"/></g><g id="n41_151"><circle cx="151" cy="841.1" r="5.3"/></g><g id="n41_316"><circle cx="316.7" cy="841.1" r="5.3"/></g><g id="n41_349"><circle cx="349.7" cy="841.1" r="5.3"/></g><g id="n41_383"><circle cx="383.3" cy="841.1" r="5.3"/></g><g id="n41_416"><circle cx="416.7" cy="841.1" r="5.3"/></g>
<g id="n42_118"><circle cx="118.3" cy="861.3" r="5.3"/></g><g id="n42_151"><circle cx="151" cy="861.3" r="5.3"/></g><g id="n42_316"><circle cx="316.7" cy="861.3" r="5.3"/></g><g id="n42_349"><circle cx="349.7" cy="861.3" r="5.3"/></g><g id="n42_383"><circle cx="383.3" cy="861.3" r="5.3"/></g><g id="n42_416"><circle cx="416.7" cy="861.3" r="5.3"/></g>
<g id="n43_118"><circle cx="118.3" cy="881.6" r="5.3"/></g><g id="n43_151"><circle cx="151" cy="881.6" r="5.3"/></g><g id="n43_283"><circle cx="283" cy="881.6" r="5.3"/></g><g id="n43_316"><circle cx="316.7" cy="881.6" r="5.3"/></g><g id="n43_349"><circle cx="349.7" cy="881.6" r="5.3"/></g><g id="n43_383"><circle cx="383.3" cy="881.6" r="5.3"/></g><g id="n43_416"><circle cx="416.7" cy="881.6" r="5.3"/></g>
<g id="n44_118"><circle cx="118.3" cy="901.9" r="5.3"/></g><g id="n44_151"><circle cx="151" cy="901.9" r="5.3"/></g><g id="n44_283"><circle cx="283" cy="901.9" r="5.3"/></g><g id="n44_316"><circle cx="316.7" cy="901.9" r="5.3"/></g><g id="n44_349"><circle cx="349.7" cy="901.9" r="5.3"/></g><g id="n44_383"><circle cx="383.3" cy="901.9" r="5.3"/></g><g id="n44_416"><circle cx="416.7" cy="901.9" r="5.3"/></g>
<g id="n45_85"><circle cx="85" cy="922.2" r="5.3"/></g><g id="n45_118"><circle cx="118.3" cy="922.2" r="5.3"/></g><g id="n45_151"><circle cx="151" cy="922.2" r="5.3"/></g><g id="n45_283"><circle cx="283" cy="922.2" r="5.3"/></g><g id="n45_316"><circle cx="316.7" cy="922.2" r="5.3"/></g><g id="n45_349"><circle cx="349.7" cy="922.2" r="5.3"/></g><g id="n45_383"><circle cx="383.3" cy="922.2" r="5.3"/></g>
<g id="n46_85"><circle cx="85" cy="942.4" r="5.3"/></g><g id="n46_118"><circle cx="118.3" cy="942.4" r="5.3"/></g><g id="n46_151"><circle cx="151" cy="942.4" r="5.3"/></g><g id="n46_283"><circle cx="283" cy="942.4" r="5.3"/></g><g id="n46_316"><circle cx="316.7" cy="942.4" r="5.3"/></g><g id="n46_349"><circle cx="349.7" cy="942.4" r="5.3"/></g><g id="n46_383"><circle cx="383.3" cy="942.4" r="5.3"/></g>
<g id="n47_51"><circle cx="51.7" cy="962.7" r="5.3"/></g><g id="n47_85"><circle cx="85" cy="962.7" r="5.3"/></g><g id="n47_151"><circle cx="151" cy="962.7" r="5.3"/></g><g id="n47_184"><circle cx="184.3" cy="962.7" r="5.3"/></g><g id="n47_292"><circle cx="292.7" cy="962.7" r="5.3"/></g><g id="n47_349"><circle cx="349.7" cy="962.7" r="5.3"/></g><g id="n47_383"><circle cx="383.3" cy="962.7" r="5.3"/></g><g id="n47_416"><circle cx="416" cy="962.7" r="5.3"/></g>
<g id="n48_51"><circle cx="51.7" cy="983" r="5.3"/></g><g id="n48_85"><circle cx="85" cy="983" r="5.3"/></g><g id="n48_151"><circle cx="151" cy="983" r="5.3"/></g><g id="n48_184"><circle cx="184.3" cy="983" r="5.3"/></g><g id="n48_308"><circle cx="308.7" cy="983" r="5.3"/></g><g id="n48_349"><circle cx="349.7" cy="983" r="5.3"/></g><g id="n48_383"><circle cx="383.3" cy="983" r="5.3"/></g><g id="n48_416"><circle cx="416" cy="983" r="5.3"/></g>
<g id="n49_51"><circle cx="51.7" cy="1003.2" r="5.3"/></g><g id="n49_85"><circle cx="85" cy="1003.2" r="5.3"/></g><g id="n49_118"><circle cx="118.3" cy="1003.2" r="5.3"/></g><g id="n49_151"><circle cx="151" cy="1003.2" r="5.3"/></g><g id="n49_184"><circle cx="184.3" cy="1003.2" r="5.3"/></g><g id="n49_218"><circle cx="218" cy="1003.2" r="5.3"/></g><g id="n49_308"><circle cx="308.7" cy="1003.2" r="5.3"/></g><g id="n49_342"><circle cx="342" cy="1003.2" r="5.3"/></g><g id="n49_399"><circle cx="399.3" cy="1003.2" r="5.3"/></g><g id="n49_432"><circle cx="432.7" cy="1003.2" r="5.3"/></g>
<g id="n50_51"><circle cx="51.7" cy="1023.5" r="5.3"/></g><g id="n50_85"><circle cx="85" cy="1023.5" r="5.3"/></g><g id="n50_118"><circle cx="118.3" cy="1023.5" r="5.3"/></g><g id="n50_151"><circle cx="151" cy="1023.5" r="5.3"/></g><g id="n50_184"><circle cx="184.3" cy="1023.5" r="5.3"/></g><g id="n50_218"><circle cx="218" cy="1023.5" r="5.3"/></g><g id="n50_308"><circle cx="308.7" cy="1023.5" r="5.3"/></g><g id="n50_346"><circle cx="346" cy="1023.5" r="5.3"/></g><g id="n50_399"><circle cx="399.3" cy="1023.5" r="5.3"/></g><g id="n50_432"><circle cx="432.7" cy="1023.5" r="5.3"/></g>
<g id="n51_51"><circle cx="51.7" cy="1043.8" r="5.3"/></g><g id="n51_85"><circle cx="85" cy="1043.8" r="5.3"/></g><g id="n51_118"><circle cx="118.3" cy="1043.8" r="5.3"/></g><g id="n51_151"><circle cx="151" cy="1043.8" r="5.3"/></g><g id="n51_184"><circle cx="184.3" cy="1043.8" r="5.3"/></g><g id="n51_218"><circle cx="218" cy="1043.8" r="5.3"/></g><g id="n51_251"><circle cx="251.3" cy="1043.8" r="5.3"/></g><g id="n51_348"><circle cx="348.3" cy="1043.8" r="5.3"/></g><g id="n51_432"><circle cx="432.7" cy="1043.8" r="5.3"/></g>
<g id="n52_51"><circle cx="51.7" cy="1064" r="5.3"/></g><g id="n52_85"><circle cx="85" cy="1064" r="5.3"/></g><g id="n52_118"><circle cx="118.3" cy="1064" r="5.3"/></g><g id="n52_151"><circle cx="151" cy="1064" r="5.3"/></g><g id="n52_184"><circle cx="184.3" cy="1064" r="5.3"/></g><g id="n52_218"><circle cx="218" cy="1064" r="5.3"/></g><g id="n52_251"><circle cx="251.3" cy="1064" r="5.3"/></g><g id="n52_376"><circle cx="376" cy="1064" r="5.3"/></g><g id="n52_432"><circle cx="432.7" cy="1064" r="5.3"/></g>
<g id="n53_51"><circle cx="51.7" cy="1084.3" r="5.3"/></g><g id="n53_85"><circle cx="85" cy="1084.3" r="5.3"/></g><g id="n53_118"><circle cx="118.3" cy="1084.3" r="5.3"/></g><g id="n53_151"><circle cx="151" cy="1084.3" r="5.3"/></g><g id="n53_184"><circle cx="184.3" cy="1084.3" r="5.3"/></g><g id="n53_218"><circle cx="218" cy="1084.3" r="5.3"/></g><g id="n53_251"><circle cx="251.3" cy="1084.3" r="5.3"/></g><g id="n53_344"><circle cx="344.7" cy="1084.3" r="5.3"/></g><g id="n53_377"><circle cx="377.7" cy="1084.3" r="5.3"/></g><g id="n53_418"><circle cx="418" cy="1084.3" r="5.3"/></g>
<g id="n54_51"><circle cx="51.7" cy="1104.6" r="5.3"/></g><g id="n54_85"><circle cx="85" cy="1104.6" r="5.3"/></g><g id="n54_118"><circle cx="118.3" cy="1104.6" r="5.3"/></g><g id="n54_151"><circle cx="151" cy="1104.6" r="5.3"/></g><g id="n54_184"><circle cx="184.3" cy="1104.6" r="5.3"/></g><g id="n54_218"><circle cx="218" cy="1104.6" r="5.3"/></g><g id="n54_251"><circle cx="251.3" cy="1104.6" r="5.3"/></g><g id="n54_344"><circle cx="344.7" cy="1104.6" r="5.3"/></g><g id="n54_377"><circle cx="377.7" cy="1104.6" r="5.3"/></g><g id="n54_433"><circle cx="433.3" cy="1104.6" r="5.3"/></g>
<g id="n55_100"><circle cx="100.7" cy="1124.9" r="5.3"/></g><g id="n55_133"><circle cx="133.7" cy="1124.9" r="5.3"/></g><g id="n55_167"><circle cx="167.3" cy="1124.9" r="5.3"/></g><g id="n55_218"><circle cx="218" cy="1124.9" r="5.3"/></g><g id="n55_251"><circle cx="251.3" cy="1124.9" r="5.3"/></g><g id="n55_288"><circle cx="288.3" cy="1124.9" r="5.3"/></g><g id="n55_369"><circle cx="369.7" cy="1124.9" r="5.3"/></g><g id="n55_403"><circle cx="403.3" cy="1124.9" r="5.3"/></g><g id="n55_439"><circle cx="439.3" cy="1124.9" r="5.3"/></g>
<g id="n56_100"><circle cx="100.7" cy="1145.1" r="5.3"/></g><g id="n56_133"><circle cx="133.7" cy="1145.1" r="5.3"/></g><g id="n56_167"><circle cx="167.3" cy="1145.1" r="5.3"/></g><g id="n56_218"><circle cx="218" cy="1145.1" r="5.3"/></g><g id="n56_251"><circle cx="251.3" cy="1145.1" r="5.3"/></g><g id="n56_293"><circle cx="293.7" cy="1145.1" r="5.3"/></g><g id="n56_369"><circle cx="369.7" cy="1145.1" r="5.3"/></g><g id="n56_403"><circle cx="403.3" cy="1145.1" r="5.3"/></g><g id="n56_441"><circle cx="441" cy="1145.1" r="5.3"/></g>
<g id="n57_100"><circle cx="100.7" cy="1165.4" r="5.3"/></g><g id="n57_133"><circle cx="133.7" cy="1165.4" r="5.3"/></g><g id="n57_167"><circle cx="167.3" cy="1165.4" r="5.3"/></g><g id="n57_247"><circle cx="247.7" cy="1165.4" r="5.3"/></g><g id="n57_295"><circle cx="295.3" cy="1165.4" r="5.3"/></g><g id="n57_336"><circle cx="336" cy="1165.4" r="5.3"/></g><g id="n57_369"><circle cx="369.7" cy="1165.4" r="5.3"/></g><g id="n57_403"><circle cx="403.3" cy="1165.4" r="5.3"/></g><g id="n57_445"><circle cx="445" cy="1165.4" r="5.3"/></g>
<g id="n58_100"><circle cx="100.7" cy="1185.7" r="5.3"/></g><g id="n58_133"><circle cx="133.7" cy="1185.7" r="5.3"/></g><g id="n58_167"><circle cx="167.3" cy="1185.7" r="5.3"/></g><g id="n58_240"><circle cx="240.7" cy="1185.7" r="5.3"/></g><g id="n58_303"><circle cx="303.3" cy="1185.7" r="5.3"/></g><g id="n58_336"><circle cx="336" cy="1185.7" r="5.3"/></g><g id="n58_369"><circle cx="369.7" cy="1185.7" r="5.3"/></g><g id="n58_403"><circle cx="403.3" cy="1185.7" r="5.3"/></g><g id="n58_452"><circle cx="452" cy="1185.7" r="5.3"/></g>
<g id="n59_100"><circle cx="100.7" cy="1205.9" r="5.3"/></g><g id="n59_167"><circle cx="167.3" cy="1205.9" r="5.3"/></g><g id="n59_203"><circle cx="203.3" cy="1205.9" r="5.3"/></g><g id="n59_236"><circle cx="236.3" cy="1205.9" r="5.3"/></g><g id="n59_270"><circle cx="270.3" cy="1205.9" r="5.3"/></g><g id="n59_303"><circle cx="303.3" cy="1205.9" r="5.3"/></g><g id="n59_337"><circle cx="337" cy="1205.9" r="5.3"/></g><g id="n59_370"><circle cx="370" cy="1205.9" r="5.3"/></g><g id="n59_403"><circle cx="403.3" cy="1205.9" r="5.3"/></g><g id="n59_436"><circle cx="436.7" cy="1205.9" r="5.3"/></g><g id="n59_470"><circle cx="470" cy="1205.9" r="5.3"/></g>
<g id="n60_100"><circle cx="100.7" cy="1226.2" r="5.3"/></g><g id="n60_153"><circle cx="153.7" cy="1226.2" r="5.3"/></g><g id="n60_203"><circle cx="203.3" cy="1226.2" r="5.3"/></g><g id="n60_236"><circle cx="236.3" cy="1226.2" r="5.3"/></g><g id="n60_270"><circle cx="270.3" cy="1226.2" r="5.3"/></g><g id="n60_303"><circle cx="303.3" cy="1226.2" r="5.3"/></g><g id="n60_337"><circle cx="337" cy="1226.2" r="5.3"/></g><g id="n60_370"><circle cx="370" cy="1226.2" r="5.3"/></g><g id="n60_403"><circle cx="403.3" cy="1226.2" r="5.3"/></g><g id="n60_436"><circle cx="436.7" cy="1226.2" r="5.3"/></g><g id="n60_470"><circle cx="470" cy="1226.2" r="5.3"/></g>
<g id="n61_67"><circle cx="67.3" cy="1246.5" r="5.3"/></g><g id="n61_100"><circle cx="100.7" cy="1246.5" r="5.3"/></g><g id="n61_136"><circle cx="136.3" cy="1246.5" r="5.3"/></g><g id="n61_170"><circle cx="170" cy="1246.5" r="5.3"/></g><g id="n61_203"><circle cx="203.3" cy="1246.5" r="5.3"/></g><g id="n61_236"><circle cx="236.3" cy="1246.5" r="5.3"/></g><g id="n61_270"><circle cx="270.3" cy="1246.5" r="5.3"/></g><g id="n61_303"><circle cx="303.3" cy="1246.5" r="5.3"/></g><g id="n61_337"><circle cx="337" cy="1246.5" r="5.3"/></g><g id="n61_386"><circle cx="386.7" cy="1246.5" r="5.3"/></g><g id="n61_420"><circle cx="420.7" cy="1246.5" r="5.3"/></g><g id="n61_470"><circle cx="470" cy="1246.5" r="5.3"/></g>
<g id="n62_67"><circle cx="67.3" cy="1266.7" r="5.3"/></g><g id="n62_100"><circle cx="100.7" cy="1266.7" r="5.3"/></g><g id="n62_136"><circle cx="136.3" cy="1266.7" r="5.3"/></g><g id="n62_170"><circle cx="170" cy="1266.7" r="5.3"/></g><g id="n62_203"><circle cx="203.3" cy="1266.7" r="5.3"/></g><g id="n62_236"><circle cx="236.3" cy="1266.7" r="5.3"/></g><g id="n62_270"><circle cx="270.3" cy="1266.7" r="5.3"/></g><g id="n62_303"><circle cx="303.3" cy="1266.7" r="5.3"/></g><g id="n62_337"><circle cx="337" cy="1266.7" r="5.3"/></g><g id="n62_386"><circle cx="386.7" cy="1266.7" r="5.3"/></g><g id="n62_420"><circle cx="420.7" cy="1266.7" r="5.3"/></g><g id="n62_470"><circle cx="470" cy="1266.7" r="5.3"/></g>
<g id="n63_100"><circle cx="100.7" cy="1287" r="5.3"/></g><g id="n63_170"><circle cx="170" cy="1287" r="5.3"/></g><g id="n63_203"><circle cx="203.3" cy="1287" r="5.3"/></g><g id="n63_236"><circle cx="236.3" cy="1287" r="5.3"/></g><g id="n63_270"><circle cx="270.3" cy="1287" r="5.3"/></g><g id="n63_303"><circle cx="303.3" cy="1287" r="5.3"/></g><g id="n63_337"><circle cx="337" cy="1287" r="5.3"/></g><g id="n63_386"><circle cx="386.7" cy="1287" r="5.3"/></g><g id="n63_470"><circle cx="470" cy="1287" r="5.3"/></g>
<g id="n64_100"><circle cx="100.7" cy="1307.3" r="5.3"/></g><g id="n64_170"><circle cx="170" cy="1307.3" r="5.3"/></g><g id="n64_203"><circle cx="203.3" cy="1307.3" r="5.3"/></g><g id="n64_236"><circle cx="236.3" cy="1307.3" r="5.3"/></g><g id="n64_270"><circle cx="270.3" cy="1307.3" r="5.3"/></g><g id="n64_303"><circle cx="303.3" cy="1307.3" r="5.3"/></g><g id="n64_337"><circle cx="337" cy="1307.3" r="5.3"/></g><g id="n64_386"><circle cx="386.7" cy="1307.3" r="5.3"/></g><g id="n64_470"><circle cx="470" cy="1307.3" r="5.3"/></g>
<g id="n65_100"><circle cx="100.7" cy="1327.6" r="5.3"/></g><g id="n65_170"><circle cx="170" cy="1327.6" r="5.3"/></g><g id="n65_203"><circle cx="203.3" cy="1327.6" r="5.3"/></g><g id="n65_236"><circle cx="236.3" cy="1327.6" r="5.3"/></g><g id="n65_337"><circle cx="337" cy="1327.6" r="5.3"/></g>
<g id="n66_100"><circle cx="100.7" cy="1347.8" r="5.3"/></g><g id="n66_170"><circle cx="170" cy="1347.8" r="5.3"/></g><g id="n66_203"><circle cx="203.3" cy="1347.8" r="5.3"/></g><g id="n66_236"><circle cx="236.3" cy="1347.8" r="5.3"/></g><g id="n66_337"><circle cx="337" cy="1347.8" r="5.3"/></g>
<g id="n67_100"><circle cx="100.7" cy="1368.1" r="5.3"/></g><g id="n67_133"><circle cx="133.7" cy="1368.1" r="5.3"/></g><g id="n67_170"><circle cx="170" cy="1368.1" r="5.3"/></g><g id="n67_223"><circle cx="223.3" cy="1368.1" r="5.3"/></g><g id="n67_256"><circle cx="256" cy="1368.1" r="5.3"/></g><g id="n67_337"><circle cx="337" cy="1368.1" r="5.3"/></g>
<g id="n68_100"><circle cx="100.7" cy="1388.4" r="5.3"/></g><g id="n68_133"><circle cx="133.7" cy="1388.4" r="5.3"/></g><g id="n68_170"><circle cx="170" cy="1388.4" r="5.3"/></g><g id="n68_219"><circle cx="219" cy="1388.4" r="5.3"/></g><g id="n68_260"><circle cx="260.7" cy="1388.4" r="5.3"/></g><g id="n68_337"><circle cx="337" cy="1388.4" r="5.3"/></g>
<g id="n69_100"><circle cx="100.7" cy="1408.6" r="5.3"/></g><g id="n69_133"><circle cx="133.7" cy="1408.6" r="5.3"/></g><g id="n69_199"><circle cx="199" cy="1408.6" r="5.3"/></g><g id="n69_232"><circle cx="232.7" cy="1408.6" r="5.3"/></g><g id="n69_265"><circle cx="265.7" cy="1408.6" r="5.3"/></g><g id="n69_299"><circle cx="299.3" cy="1408.6" r="5.3"/></g><g id="n69_337"><circle cx="337" cy="1408.6" r="5.3"/></g>
<g id="n70_100"><circle cx="100.7" cy="1428.9" r="5.3"/></g><g id="n70_133"><circle cx="133.7" cy="1428.9" r="5.3"/></g><g id="n70_199"><circle cx="199" cy="1428.9" r="5.3"/></g><g id="n70_232"><circle cx="232.7" cy="1428.9" r="5.3"/></g><g id="n70_265"><circle cx="265.7" cy="1428.9" r="5.3"/></g><g id="n70_299"><circle cx="299.3" cy="1428.9" r="5.3"/></g><g id="n70_337"><circle cx="337" cy="1428.9" r="5.3"/></g>
<g id="n71_100"><circle cx="100.7" cy="1449.2" r="5.3"/></g><g id="n71_133"><circle cx="133.7" cy="1449.2" r="5.3"/></g><g id="n71_232"><circle cx="232.7" cy="1449.2" r="5.3"/></g><g id="n71_265"><circle cx="265.7" cy="1449.2" r="5.3"/></g><g id="n71_299"><circle cx="299.3" cy="1449.2" r="5.3"/></g>
<g id="n72_100"><circle cx="100.7" cy="1469.4" r="5.3"/></g><g id="n72_133"><circle cx="133.7" cy="1469.4" r="5.3"/></g><g id="n72_232"><circle cx="232.7" cy="1469.4" r="5.3"/></g><g id="n72_265"><circle cx="265.7" cy="1469.4" r="5.3"/></g><g id="n72_299"><circle cx="299.3" cy="1469.4" r="5.3"/></g>
<g id="n73_100"><circle cx="100.7" cy="1489.7" r="5.3"/></g><g id="n73_133"><circle cx="133.7" cy="1489.7" r="5.3"/></g>
<g id="n74_100"><circle cx="100.7" cy="1510" r="5.3"/></g><g id="n74_133"><circle cx="133.7" cy="1510" r="5.3"/></g>
<g id="n75_59"><circle cx="59" cy="1530.3" r="5.3"/></g><g id="n75_100"><circle cx="100.7" cy="1530.3" r="5.3"/></g><g id="n75_133"><circle cx="133.7" cy="1530.3" r="5.3"/></g>
<g id="n76_59"><circle cx="59" cy="1550.5" r="5.3"/></g><g id="n76_100"><circle cx="100.7" cy="1550.5" r="5.3"/></g><g id="n76_133"><circle cx="133.7" cy="1550.5" r="5.3"/></g>
<g id="n77_10"><circle cx="10" cy="1570.8" r="5.3"/></g><g id="n77_43"><circle cx="43.3" cy="1570.8" r="5.3"/></g><g id="n77_76"><circle cx="76.7" cy="1570.8" r="5.3"/></g><g id="n77_110"><circle cx="110" cy="1570.8" r="5.3"/></g>
<g id="n78_10"><circle cx="10" cy="1591.1" r="5.3"/></g><g id="n78_43"><circle cx="43.3" cy="1591.1" r="5.3"/></g><g id="n78_76"><circle cx="76.7" cy="1591.1" r="5.3"/></g><g id="n78_110"><circle cx="110" cy="1591.1" r="5.3"/></g>
<g id="n79_10"><circle cx="10" cy="1611.3" r="5.3"/></g><g id="n79_76"><circle cx="76.7" cy="1611.3" r="5.3"/></g>
<g id="n80_10"><circle cx="10" cy="1631.6" r="5.3"/></g><g id="n80_76"><circle cx="76.7" cy="1631.6" r="5.3"/></g>
</g>
</svg>
